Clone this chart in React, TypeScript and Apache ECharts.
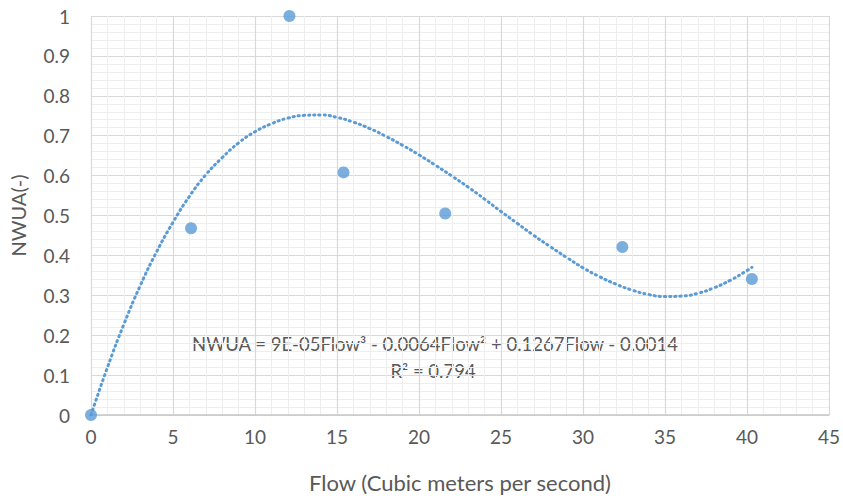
import React, { useEffect, useRef } from "react";
import * as echarts from "echarts";

const flow = [0, 6.1, 12.1, 15.4, 21.6, 32.4, 40.3];
const nwua = [0, 0.468, 1.0, 0.608, 0.505, 0.421, 0.341];

const trendX = [0, 1, 2, 3, 4, 5, 6, 7, 8, 9, 10, 11, 12, 13, 14, 15, 16, 17, 18, 19, 20, 21, 22, 23, 24, 25, 26, 27, 28, 29, 30, 31, 32, 33, 34, 35, 36, 37, 38, 39, 40, 40.3];
const trendY = [0, 0.119, 0.227, 0.324, 0.409, 0.483, 0.548, 0.602, 0.645, 0.682, 0.71, 0.73, 0.744, 0.751, 0.752, 0.746, 0.734, 0.718, 0.698, 0.676, 0.652, 0.626, 0.599, 0.571, 0.541, 0.51, 0.48, 0.45, 0.422, 0.395, 0.369, 0.347, 0.328, 0.313, 0.302, 0.297, 0.298, 0.305, 0.319, 0.338, 0.362, 0.37];

const equationText = "NWUA = 9E-05Flow³ - 0.0064Flow² + 0.1267Flow - 0.0014";
const r2Text = "R² = 0.794";
const xAxisTitle = "Flow (Cubic meters per second)";
const yAxisTitle = "NWUA(-)";

const FONT = "Lato, 'Open Sans', sans-serif";
const TXT = "#595959";

export default function App() {
  const ref = useRef<HTMLDivElement>(null);
  useEffect(() => {
    if (!ref.current) return;
    const chart = echarts.init(ref.current, undefined, { renderer: "svg" });
    chart.setOption({
      animation: false,
      backgroundColor: "#ffffff",
      grid: { left: 91, right: 10, top: 16, bottom: 81, containLabel: false },
      xAxis: {
        type: "value",
        min: 0,
        max: 45,
        interval: 5,
        name: xAxisTitle,
        nameLocation: "middle",
        nameGap: 56,
        nameTextStyle: { color: TXT, fontFamily: FONT, fontSize: 22 },
        axisLine: { show: true, lineStyle: { color: "#c8c8c8", width: 1.5 } },
        axisTick: { show: false },
        axisLabel: { color: TXT, fontFamily: FONT, fontSize: 19, margin: 12 },
        splitLine: { show: true, lineStyle: { color: "#d9d9d9", width: 1.2 } },
        minorTick: { show: false, splitNumber: 5 },
        minorSplitLine: { show: true, lineStyle: { color: "#eeeeee", width: 1 } },
      },
      yAxis: {
        type: "value",
        min: 0,
        max: 1,
        interval: 0.1,
        name: yAxisTitle,
        nameLocation: "middle",
        nameGap: 63,
        nameRotate: 90,
        nameTextStyle: { color: TXT, fontFamily: FONT, fontSize: 20 },
        axisLine: { show: false },
        axisTick: { show: false },
        axisLabel: { color: TXT, fontFamily: FONT, fontSize: 19, margin: 21 },
        splitLine: { show: true, lineStyle: { color: "#d9d9d9", width: 1.2 } },
        minorTick: { show: false, splitNumber: 5 },
        minorSplitLine: { show: true, lineStyle: { color: "#eeeeee", width: 1 } },
      },
      series: [
        {
          type: "line",
          data: trendX.map((x, i) => [x, trendY[i]]),
          smooth: true,
          showSymbol: false,
          symbol: "none",
          lineStyle: { color: "#5b9bd5", width: 3, type: [1.2, 4], cap: "round" },
          z: 2,
        },
        {
          type: "scatter",
          data: flow.map((x, i) => [x, nwua[i]]),
          symbolSize: 12,
          itemStyle: { color: "#5b9bd5" },
          z: 3,
        },
      ],
      graphic: [
        {
          type: "text",
          x: 435,
          y: 344,
          style: {
            text: equationText,
            fill: TXT,
            font: `18.5px ${FONT}`,
            textAlign: "center",
            textVerticalAlign: "middle",
          },
        },
        {
          type: "text",
          x: 433,
          y: 371,
          style: {
            text: r2Text,
            fill: TXT,
            font: `18.5px ${FONT}`,
            textAlign: "center",
            textVerticalAlign: "middle",
          },
        },
      ],
    });
    return () => chart.dispose();
  }, []);
  return (
    <div
      ref={ref}
      style={{ position: "fixed", left: 0, top: 0, width: 843, height: 498 }}
    />
  );
}
